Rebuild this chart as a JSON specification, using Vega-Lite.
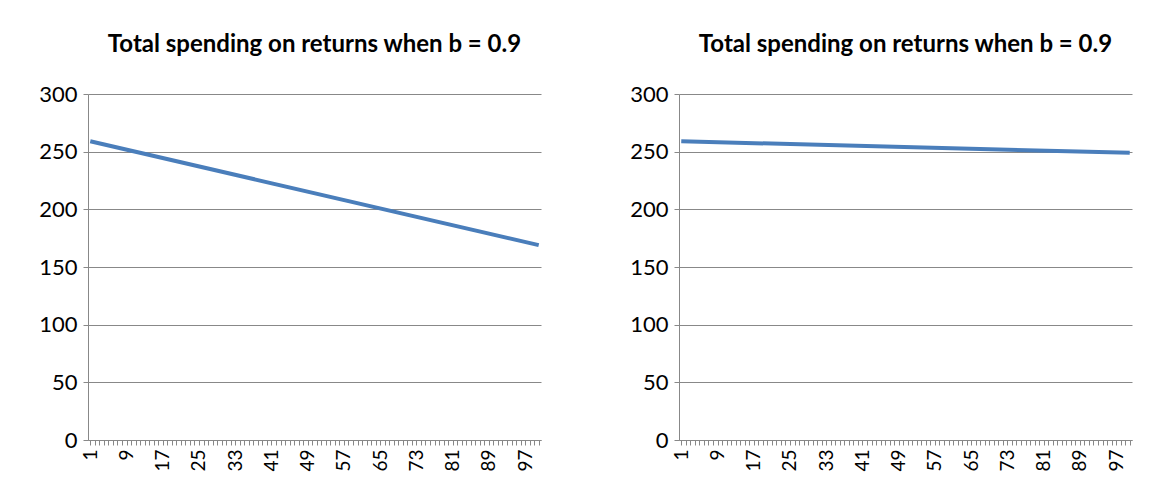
{
  "$schema": "https://vega.github.io/schema/vega-lite/v6.json",
  "padding": {"left": 38, "top": 33, "right": 10, "bottom": 5},
  "background": "white",
  "config": {
    "view": {"stroke": null},
    "font": "Lato",
    "title": {"fontSize": 24, "fontWeight": "bold", "font": "Lato", "color": "#000", "offset": 26},
    "axis": {"labelFont": "Lato", "labelFontSize": 22, "labelColor": "#000", "domainColor": "#888", "tickColor": "#888", "title": null}
  },
  "datasets": {
    "left": [{"x": 1, "y": 259}, {"x": 100, "y": 169}],
    "right": [{"x": 1, "y": 259}, {"x": 100, "y": 249}]
  },
  "spacing": 80,
  "hconcat": [
    {
      "title": "Total spending on returns when b = 0.9",
      "width": 453, "height": 346,
      "data": {"name": "left"},
      "mark": {"type": "line", "color": "#4a7ebb", "strokeWidth": 4},
      "encoding": {
        "x": {"field": "x", "type": "quantitative", "scale": {"domain": [0.5, 100.5], "nice": false, "zero": false},
          "axis": {"values": [1,2,3,4,5,6,7,8,9,10,11,12,13,14,15,16,17,18,19,20,21,22,23,24,25,26,27,28,29,30,31,32,33,34,35,36,37,38,39,40,41,42,43,44,45,46,47,48,49,50,51,52,53,54,55,56,57,58,59,60,61,62,63,64,65,66,67,68,69,70,71,72,73,74,75,76,77,78,79,80,81,82,83,84,85,86,87,88,89,90,91,92,93,94,95,96,97,98,99,100],
            "labelExpr": "datum.value % 8 == 1 ? datum.label : ''", "labelAngle": -90, "grid": false, "tickSize": 5, "labelOverlap": false, "labelPadding": 4, "labelFontSize": 19}},
        "y": {"field": "y", "type": "quantitative", "scale": {"domain": [0, 300]},
          "axis": {"values": [0,50,100,150,200,250,300], "gridColor": "#888", "tickSize": 5, "labelPadding": 6}}
      }
    },
    {
      "title": "Total spending on returns when b = 0.9",
      "width": 453, "height": 346,
      "data": {"name": "right"},
      "mark": {"type": "line", "color": "#4a7ebb", "strokeWidth": 4},
      "encoding": {
        "x": {"field": "x", "type": "quantitative", "scale": {"domain": [0.5, 100.5], "nice": false, "zero": false},
          "axis": {"values": [1,2,3,4,5,6,7,8,9,10,11,12,13,14,15,16,17,18,19,20,21,22,23,24,25,26,27,28,29,30,31,32,33,34,35,36,37,38,39,40,41,42,43,44,45,46,47,48,49,50,51,52,53,54,55,56,57,58,59,60,61,62,63,64,65,66,67,68,69,70,71,72,73,74,75,76,77,78,79,80,81,82,83,84,85,86,87,88,89,90,91,92,93,94,95,96,97,98,99,100],
            "labelExpr": "datum.value % 8 == 1 ? datum.label : ''", "labelAngle": -90, "grid": false, "tickSize": 5, "labelOverlap": false, "labelPadding": 4, "labelFontSize": 19}},
        "y": {"field": "y", "type": "quantitative", "scale": {"domain": [0, 300]},
          "axis": {"values": [0,50,100,150,200,250,300], "gridColor": "#888", "tickSize": 5, "labelPadding": 6}}
      }
    }
  ]
}
